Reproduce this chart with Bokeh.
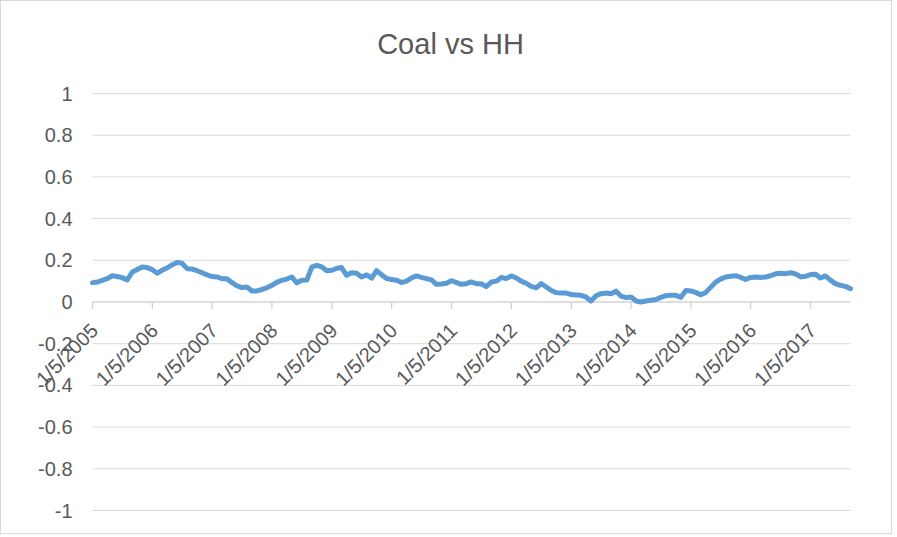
import math
import pandas as pd
from bokeh.plotting import figure
from bokeh.models import Range1d, Label
from bokeh.core.properties import value
from bokeh.embed import file_html
from bokeh.resources import INLINE

title_text = "Coal vs HH"
start_date = "2005-01-05"
values = [
    0.093, 0.096, 0.104, 0.112, 0.126, 0.122, 0.117, 0.106, 0.144, 0.156, 0.168, 0.165,
    0.155, 0.138, 0.152, 0.163, 0.178, 0.190, 0.186, 0.160, 0.158, 0.150, 0.140, 0.130,
    0.122, 0.120, 0.112, 0.112, 0.094, 0.078, 0.069, 0.072, 0.053, 0.053, 0.060, 0.068,
    0.080, 0.095, 0.104, 0.110, 0.120, 0.092, 0.104, 0.105, 0.168, 0.176, 0.168, 0.150,
    0.152, 0.162, 0.165, 0.128, 0.140, 0.138, 0.120, 0.130, 0.115, 0.150, 0.130, 0.113,
    0.108, 0.104, 0.093, 0.100, 0.115, 0.125, 0.118, 0.112, 0.106, 0.085, 0.086, 0.090,
    0.102, 0.093, 0.085, 0.088, 0.096, 0.088, 0.088, 0.074, 0.096, 0.100, 0.118, 0.112,
    0.125, 0.115, 0.100, 0.090, 0.075, 0.068, 0.088, 0.072, 0.055, 0.045, 0.043, 0.043,
    0.036, 0.034, 0.032, 0.024, 0.005, 0.030, 0.040, 0.043, 0.040, 0.052, 0.028, 0.021,
    0.024, 0.005, 0.000, 0.005, 0.008, 0.012, 0.022, 0.030, 0.032, 0.032, 0.022, 0.055,
    0.053, 0.045, 0.035, 0.045, 0.070, 0.095, 0.110, 0.120, 0.123, 0.126, 0.118, 0.108,
    0.118, 0.120, 0.118, 0.120, 0.126, 0.135, 0.138, 0.136, 0.140, 0.135, 0.120, 0.123,
    0.132, 0.133, 0.115, 0.125, 0.105, 0.088, 0.080, 0.075, 0.064,
]
x_tick_labels = ["1/5/2005", "1/5/2006", "1/5/2007", "1/5/2008", "1/5/2009", "1/5/2010",
                 "1/5/2011", "1/5/2012", "1/5/2013", "1/5/2014", "1/5/2015", "1/5/2016",
                 "1/5/2017"]
y_ticks = [-1.0, -0.8, -0.6, -0.4, -0.2, 0.0, 0.2, 0.4, 0.6, 0.8, 1.0]
y_tick_labels = ["-1", "-0.8", "-0.6", "-0.4", "-0.2", "0", "0.2", "0.4", "0.6", "0.8", "1"]
axis_value = 0.0

dates = pd.date_range(start_date, periods=len(values), freq=pd.DateOffset(months=1))
tick_dates = pd.to_datetime(x_tick_labels, format="%m/%d/%Y")

GRID = "#d9d9d9"
AXIS = "#cfcfcf"
TXT = "#595959"
FONT = "Liberation Sans"

# layout (pixels inside the figure canvas)
W, H = 892, 534
PLOT_L, PLOT_R, PLOT_T, PLOT_B = 91, 849, 92, 509
d0, d1 = dates[0], dates[-1]
span = d1 - d0
xpx = span / (PLOT_R - PLOT_L)
ypx = 2.0 / (PLOT_B - PLOT_T)
x_range = Range1d(d0 - xpx * PLOT_L, d1 + xpx * (W - PLOT_R))
y_range = Range1d(-1 - ypx * (H - PLOT_B), 1 + ypx * PLOT_T)

p = figure(width=W, height=H, x_axis_type="datetime",
           x_axis_location=None, y_axis_location=None,
           output_backend="svg", toolbar_location=None,
           x_range=x_range, y_range=y_range,
           min_border=0, min_border_left=0, min_border_right=0,
           min_border_top=0, min_border_bottom=0)
p.outline_line_color = None
p.xgrid.visible = False
p.ygrid.visible = False
p.background_fill_color = "white"
p.border_fill_color = "white"

n_y = len(y_ticks)
# horizontal gridlines across the data span
p.segment(x0=[d0] * n_y, y0=y_ticks, x1=[d1] * n_y, y1=y_ticks,
          line_color=GRID, line_width=1)
# y tick labels
p.text(x=[d0] * n_y, y=y_ticks, text=y_tick_labels, x_offset=-20,
       text_align="right", text_baseline="middle",
       text_font=value(FONT), text_font_size="20px", text_color=TXT)

n_x = len(tick_dates)
# category axis line and tick marks at y = 0
p.segment(x0=[d0], y0=[axis_value], x1=[d1], y1=[axis_value],
          line_color=AXIS, line_width=1.2)
p.segment(x0=tick_dates, y0=[axis_value] * n_x, x1=tick_dates,
          y1=[axis_value - ypx * 7] * n_x, line_color=AXIS, line_width=1.2)

p.line(dates, values, line_color="#5b9bd5", line_width=5, line_join="round", line_cap="round")

# rotated date labels
p.text(x=tick_dates, y=[axis_value] * n_x, text=x_tick_labels, angle=math.pi / 4,
       x_offset=2, y_offset=25, text_align="right", text_baseline="middle",
       text_font=value(FONT), text_font_size="20px", text_color=TXT)

title = Label(x=449, y=H - 42, x_units="screen", y_units="screen", text=title_text,
              text_align="center", text_baseline="alphabetic",
              text_font=FONT, text_font_size="29px", text_color=TXT)
p.add_layout(title)

p.styles = {"border": "1px solid #d9d9d9"}

open("out.html", "w").write(file_html(p, INLINE))
